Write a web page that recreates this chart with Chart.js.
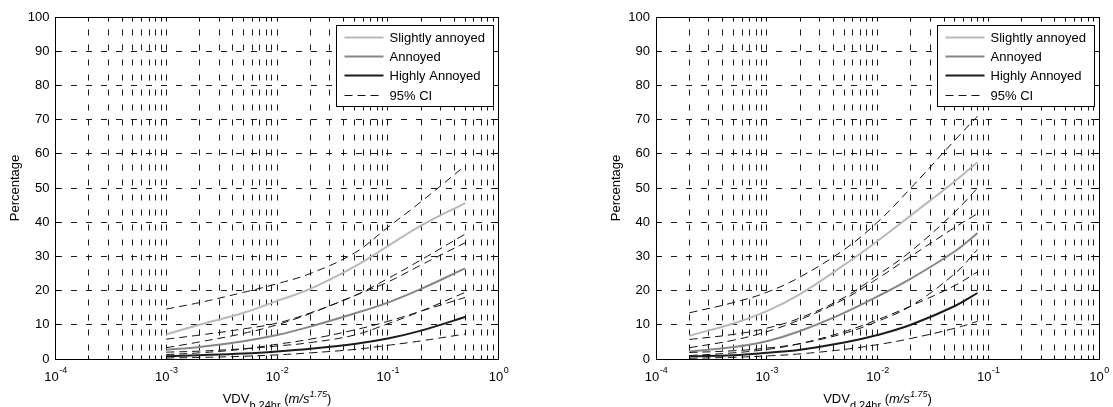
<!DOCTYPE html>
<html>
<head>
<meta charset="utf-8">
<script src="https://cdn.jsdelivr.net/npm/chart.js@4"></script>
<style>
  html, body { margin: 0; padding: 0; background: #fff; }
  #wrap { position: relative; width: 1113px; height: 407px; overflow: hidden; background: #fff; }
  canvas { position: absolute; top: 0; }
  #left { left: 0; }
  #right { left: 556px; }
</style>
</head>
<body>
<div id="wrap">
  <canvas id="left" width="556" height="407"></canvas>
  <canvas id="right" width="557" height="407"></canvas>
</div>
<script>
// ---- exposure values (m/s^1.75) at which the curves were evaluated ----
const vdvB = [0.001, 0.002, 0.005, 0.01, 0.02, 0.05, 0.1, 0.2, 0.5];
const vdvD = [0.0002, 0.0005, 0.001, 0.002, 0.005, 0.01, 0.02, 0.05, 0.08];

// ---- VDV_b : percentage annoyed ----
const slightB      = [7.2, 10.0, 13.5, 17.0, 20.5, 27.0, 33.0, 39.0, 45.6];
const slightBUpper = [14.6, 16.5, 19.5, 22.0, 25.0, 31.0, 38.5, 46.0, 56.5];
const slightBLower = [3.3, 5.0, 7.5, 10.0, 13.3, 18.5, 22.5, 27.5, 34.0];
const annoyB       = [2.7, 3.5, 5.2, 7.0, 9.5, 13.3, 16.5, 20.5, 26.5];
const annoyBUpper  = [5.8, 7.0, 8.8, 10.5, 13.5, 18.5, 23.5, 29.0, 36.5];
const annoyBLower  = [1.3, 1.8, 2.9, 4.3, 5.8, 8.5, 11.0, 14.0, 18.0];
const highB        = [0.8, 1.1, 1.6, 2.2, 3.0, 4.4, 6.0, 8.3, 12.3];
const highBUpper   = [2.0, 2.3, 3.0, 3.8, 4.8, 7.0, 10.3, 14.0, 19.5];
const highBLower   = [0.3, 0.45, 0.8, 1.2, 1.8, 2.8, 4.0, 5.3, 7.3];

// ---- VDV_d : percentage annoyed ----
const slightD      = [6.8, 10.4, 14.0, 19.0, 27.5, 34.5, 42.0, 52.0, 57.5];
const slightDUpper = [13.5, 16.5, 19.5, 24.0, 32.0, 40.0, 50.0, 64.0, 71.0];
const slightDLower = [3.3, 5.5, 8.0, 11.5, 17.5, 23.5, 30.0, 38.5, 42.5];
const annoyD       = [2.2, 3.5, 5.2, 8.2, 13.5, 18.3, 23.5, 31.5, 36.8];
const annoyDUpper  = [5.7, 7.2, 9.0, 12.0, 18.0, 24.5, 31.5, 43.0, 50.0];
const annoyDLower  = [1.0, 1.8, 2.8, 4.5, 8.0, 11.5, 15.5, 21.5, 25.5];
const highD        = [0.8, 1.1, 1.8, 2.7, 4.8, 7.0, 10.0, 15.5, 19.3];
const highDUpper   = [1.9, 2.4, 3.2, 4.5, 7.5, 11.0, 15.5, 25.0, 32.0];
const highDLower   = [0.2, 0.5, 0.9, 1.5, 2.8, 4.2, 6.0, 9.0, 11.0];

// ---- axis ticks ----
const xDecades = [-4, -3, -2, -1, 0];          // labelled powers of ten
const xMinorSteps = [2, 3, 4, 5, 6, 7, 8, 9];  // minor ticks within each decade
const yTicks = [0, 10, 20, 30, 40, 50, 60, 70, 80, 90, 100];

const seriesNames = ['Slightly annoyed', 'Annoyed', 'Highly Annoyed', '95% CI'];
const xTitleSubs = ['b,24hr', 'd,24hr'];

const FONT = "'Liberation Sans', Arial, Helvetica, sans-serif";
const C_SLIGHT = '#b9b9b9';
const C_ANNOY = '#878787';
const C_HIGH = '#1c1c1c';
const CI_DASH = [8, 5];

function series(xs, ys, color, width, dash, label, inLegend) {
  return {
    label: label,
    inLegend: inLegend,
    data: xs.map((x, i) => ({ x: x, y: ys[i] })),
    borderColor: color,
    borderWidth: width,
    borderDash: dash,
    pointRadius: 0,
    fill: false,
    tension: 0.4
  };
}

function buildDatasets(xs, s, su, sl, a, au, al, h, hu, hl) {
  return [
    series(xs, su, '#111', 1, CI_DASH, seriesNames[3], true),
    series(xs, sl, '#111', 1, CI_DASH, seriesNames[3], false),
    series(xs, au, '#111', 1, CI_DASH, seriesNames[3], false),
    series(xs, al, '#111', 1, CI_DASH, seriesNames[3], false),
    series(xs, hu, '#111', 1, CI_DASH, seriesNames[3], false),
    series(xs, hl, '#111', 1, CI_DASH, seriesNames[3], false),
    series(xs, s, C_SLIGHT, 2, [], seriesNames[0], true),
    series(xs, a, C_ANNOY, 2, [], seriesNames[1], true),
    series(xs, h, C_HIGH, 2, [], seriesNames[2], true)
  ];
}

function align(p) { return Math.round(p - 0.5) + 0.5; }

// Axes box, inward tick marks, power-of-ten labels, x title and legend
const axesDecor = {
  id: 'axesDecor',
  afterDraw(chart, args, opts) {
    const ctx = chart.ctx;
    const a = chart.chartArea;
    const xs = chart.scales.x, ys = chart.scales.y;
    const L = align(a.left), R = align(a.right), T = align(a.top), B = align(a.bottom);
    ctx.save();
    ctx.strokeStyle = '#000';
    ctx.lineWidth = 1;
    ctx.setLineDash([]);
    // inward ticks
    ctx.beginPath();
    xs.ticks.forEach(t => {
      const px = align(xs.getPixelForValue(t.value));
      ctx.moveTo(px, B); ctx.lineTo(px, B - 4);
      ctx.moveTo(px, T); ctx.lineTo(px, T + 4);
    });
    ys.ticks.forEach(t => {
      const py = align(ys.getPixelForValue(t.value));
      ctx.moveTo(L, py); ctx.lineTo(L + 4, py);
      ctx.moveTo(R, py); ctx.lineTo(R - 4, py);
    });
    ctx.stroke();
    // box
    ctx.strokeRect(L, T, R - L, B - T);

    // x tick labels 10^n
    ctx.fillStyle = '#000';
    ctx.textBaseline = 'alphabetic';
    ctx.textAlign = 'left';
    xs.ticks.forEach(t => {
      if (!t.major) return;
      const exp = String(Math.round(Math.log10(t.value)));
      const px = xs.getPixelForValue(t.value);
      ctx.font = '13px ' + FONT;
      const wBase = ctx.measureText('10').width;
      ctx.font = '9px ' + FONT;
      const wExp = ctx.measureText(exp).width;
      const x0 = px - (wBase + wExp) / 2;
      ctx.font = '13px ' + FONT;
      ctx.fillText('10', x0, B + 21);
      ctx.font = '9px ' + FONT;
      ctx.fillText(exp, x0 + wBase + 0.5, B + 13.5);
    });

    // x title: VDV_sub (m/s^1.75)
    const parts = [
      { t: 'VDV', f: '13px ' + FONT, dy: 0 },
      { t: opts.sub, f: '11px ' + FONT, dy: 6 },
      { t: ' (', f: '13px ' + FONT, dy: 0 },
      { t: 'm/s', f: 'italic 13px ' + FONT, dy: 0 },
      { t: '1.75', f: 'italic 9px ' + FONT, dy: -6 },
      { t: ')', f: '13px ' + FONT, dy: 0 }
    ];
    let total = 0;
    parts.forEach(p => { ctx.font = p.f; p.w = ctx.measureText(p.t).width; total += p.w; });
    let cx = (a.left + a.right) / 2 - total / 2;
    const base = B + 43;
    parts.forEach(p => { ctx.font = p.f; ctx.fillText(p.t, cx, base + p.dy); cx += p.w; });

    // legend
    const items = chart.data.datasets.filter(d => d.inLegend);
    const order = seriesNames.map(n => items.find(d => d.label === n)).filter(Boolean);
    const bw = opts.legendWidth, bh = opts.legendHeight;
    const bx = Math.round(a.right - opts.legendInset - bw) + 0.5;
    const by = Math.round(a.top + opts.legendTop) + 0.5;
    ctx.fillStyle = '#fff';
    ctx.fillRect(bx, by, bw, bh);
    ctx.strokeStyle = '#000';
    ctx.lineWidth = 1;
    ctx.setLineDash([]);
    ctx.strokeRect(bx, by, bw, bh);
    ctx.font = '13px ' + FONT;
    ctx.textBaseline = 'middle';
    order.forEach((d, i) => {
      const yy = Math.round(by + 11 + i * 19.4) + 0.5;
      ctx.strokeStyle = d.borderColor;
      ctx.lineWidth = d.borderWidth;
      ctx.setLineDash(d.borderDash || []);
      ctx.beginPath();
      ctx.moveTo(bx + 8, yy);
      ctx.lineTo(bx + 47, yy);
      ctx.stroke();
      ctx.setLineDash([]);
      ctx.fillStyle = '#000';
      ctx.fillText(d.label, bx + 53, yy + 0.5);
    });
    ctx.restore();
  }
};

function makeChart(id, datasets, padLeft, padRight, sub) {
  return new Chart(document.getElementById(id), {
    type: 'line',
    data: { datasets: datasets },
    plugins: [axesDecor],
    options: {
      responsive: false,
      animation: false,
      events: [],
      devicePixelRatio: 1,
      layout: { padding: { left: padLeft, right: padRight, top: 17, bottom: 0 } },
      plugins: {
        legend: { display: false },
        tooltip: { enabled: false },
        axesDecor: { sub: sub, legendWidth: 157, legendHeight: 81, legendInset: 5.5, legendTop: 8 }
      },
      scales: {
        x: {
          type: 'logarithmic',
          min: Math.pow(10, xDecades[0]),
          max: Math.pow(10, xDecades[xDecades.length - 1]),
          afterBuildTicks(scale) {
            const ticks = [];
            xDecades.forEach((e, i) => {
              ticks.push({ value: Math.pow(10, e), major: true });
              if (i < xDecades.length - 1) {
                xMinorSteps.forEach(m => ticks.push({ value: m * Math.pow(10, e), major: false }));
              }
            });
            scale.ticks = ticks;
          },
          afterFit(scale) { scale.height = 48; },
          ticks: { display: false },
          grid: { color: '#1a1a1a', lineWidth: 1, drawTicks: false },
          border: { display: false, dash: [6, 9], dashOffset: 2.5 }
        },
        y: {
          type: 'linear',
          min: yTicks[0],
          max: yTicks[yTicks.length - 1],
          afterBuildTicks(scale) { scale.ticks = yTicks.map(v => ({ value: v })); },
          afterFit(scale) { scale.width = 55.5; },
          ticks: { color: '#000', padding: 6, font: { family: FONT, size: 13 } },
          grid: { color: '#1a1a1a', lineWidth: 1, drawTicks: false },
          border: { display: false, dash: [6, 9], dashOffset: 0 },
          title: {
            display: true,
            text: 'Percentage',
            color: '#000',
            font: { family: FONT, size: 13 },
            padding: { top: 8, bottom: 0 }
          }
        }
      }
    }
  });
}

makeChart('left',
  buildDatasets(vdvB, slightB, slightBUpper, slightBLower, annoyB, annoyBUpper, annoyBLower, highB, highBUpper, highBLower),
  0, 57.5, xTitleSubs[0]);
makeChart('right',
  buildDatasets(vdvD, slightD, slightDUpper, slightDLower, annoyD, annoyDUpper, annoyDLower, highD, highDUpper, highDLower),
  44.5, 14, xTitleSubs[1]);
</script>
</body>
</html>
